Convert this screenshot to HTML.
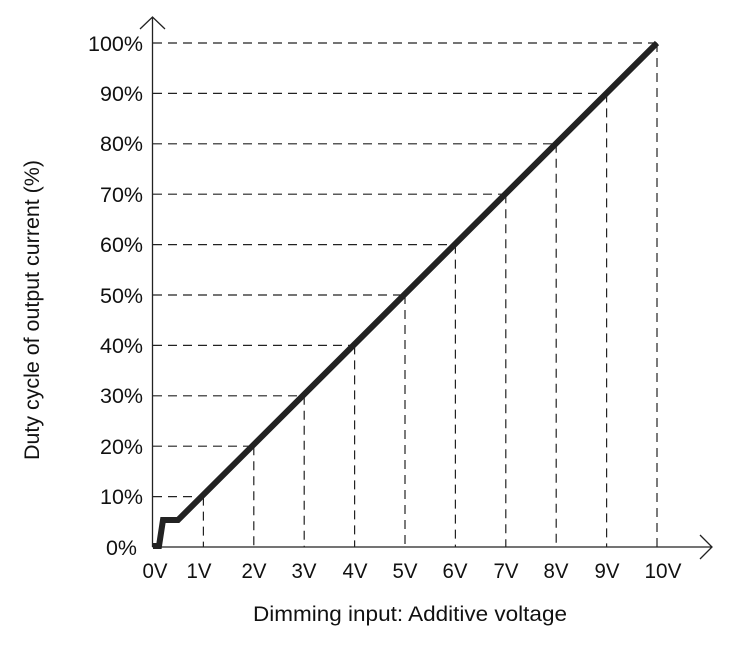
<!DOCTYPE html>
<html><head><style>body{margin:0;background:#fff}</style></head><body>
<svg width="735" height="643" xmlns="http://www.w3.org/2000/svg" font-family="Liberation Sans, sans-serif">
<g stroke="#222" stroke-width="1.2" stroke-dasharray="9,6" fill="none">
<path d="M153 43H657M153 93.4H606.6M153 143.8H556.2M153 194.2H505.8M153 244.6H455.4M153 295H405M153 345.4H354.6M153 395.8H304.2M153 446.2H253.8M153 496.6H203.4"/>
<path d="M657 43V547M606.6 93.4V547M556.2 143.8V547M505.8 194.2V547M455.4 244.6V547M405 295V547M354.6 345.4V547M304.2 395.8V547M253.8 446.2V547M203.4 496.6V547"/>
</g>
<g stroke="#222" stroke-width="1.3" fill="none">
<path d="M152.5 547V17M140 29L152.5 17L165 29"/>
<path d="M152.5 547H712M700 535L712 547L700 559"/>
</g>
<path d="M153 546H159L163 520H178L657 43" stroke="#222" stroke-width="6" fill="none" stroke-linejoin="miter"/>
<g font-size="21" fill="#111" text-anchor="end" lengthAdjust="spacingAndGlyphs">
<text x="143" y="51" textLength="55" lengthAdjust="spacingAndGlyphs">100%</text><text x="143" y="101" textLength="43" lengthAdjust="spacingAndGlyphs">90%</text><text x="143" y="151" textLength="43" lengthAdjust="spacingAndGlyphs">80%</text><text x="143" y="202" textLength="43" lengthAdjust="spacingAndGlyphs">70%</text><text x="143" y="252" textLength="43" lengthAdjust="spacingAndGlyphs">60%</text><text x="143" y="303" textLength="43" lengthAdjust="spacingAndGlyphs">50%</text><text x="143" y="353" textLength="43" lengthAdjust="spacingAndGlyphs">40%</text><text x="143" y="403" textLength="43" lengthAdjust="spacingAndGlyphs">30%</text><text x="143" y="454" textLength="43" lengthAdjust="spacingAndGlyphs">20%</text><text x="143" y="504" textLength="43" lengthAdjust="spacingAndGlyphs">10%</text><text x="137" y="555" textLength="31" lengthAdjust="spacingAndGlyphs">0%</text>
</g>
<g font-size="21" fill="#111" text-anchor="middle">
<text x="155" y="578" textLength="25" lengthAdjust="spacingAndGlyphs">0V</text><text x="199" y="578" textLength="25" lengthAdjust="spacingAndGlyphs">1V</text><text x="254" y="578" textLength="25" lengthAdjust="spacingAndGlyphs">2V</text><text x="304" y="578" textLength="25" lengthAdjust="spacingAndGlyphs">3V</text><text x="355" y="578" textLength="25" lengthAdjust="spacingAndGlyphs">4V</text><text x="405" y="578" textLength="25" lengthAdjust="spacingAndGlyphs">5V</text><text x="455" y="578" textLength="25" lengthAdjust="spacingAndGlyphs">6V</text><text x="506" y="578" textLength="25" lengthAdjust="spacingAndGlyphs">7V</text><text x="556" y="578" textLength="25" lengthAdjust="spacingAndGlyphs">8V</text><text x="607" y="578" textLength="25" lengthAdjust="spacingAndGlyphs">9V</text><text x="663" y="578" textLength="37" lengthAdjust="spacingAndGlyphs">10V</text>
</g>
<text x="410" y="621" font-size="21" fill="#111" text-anchor="middle" textLength="314" lengthAdjust="spacingAndGlyphs">Dimming input: Additive voltage</text>
<text transform="translate(39,310) rotate(-90)" font-size="21" fill="#111" text-anchor="middle" textLength="300" lengthAdjust="spacingAndGlyphs">Duty cycle of output current (%)</text>
</svg>
</body></html>
